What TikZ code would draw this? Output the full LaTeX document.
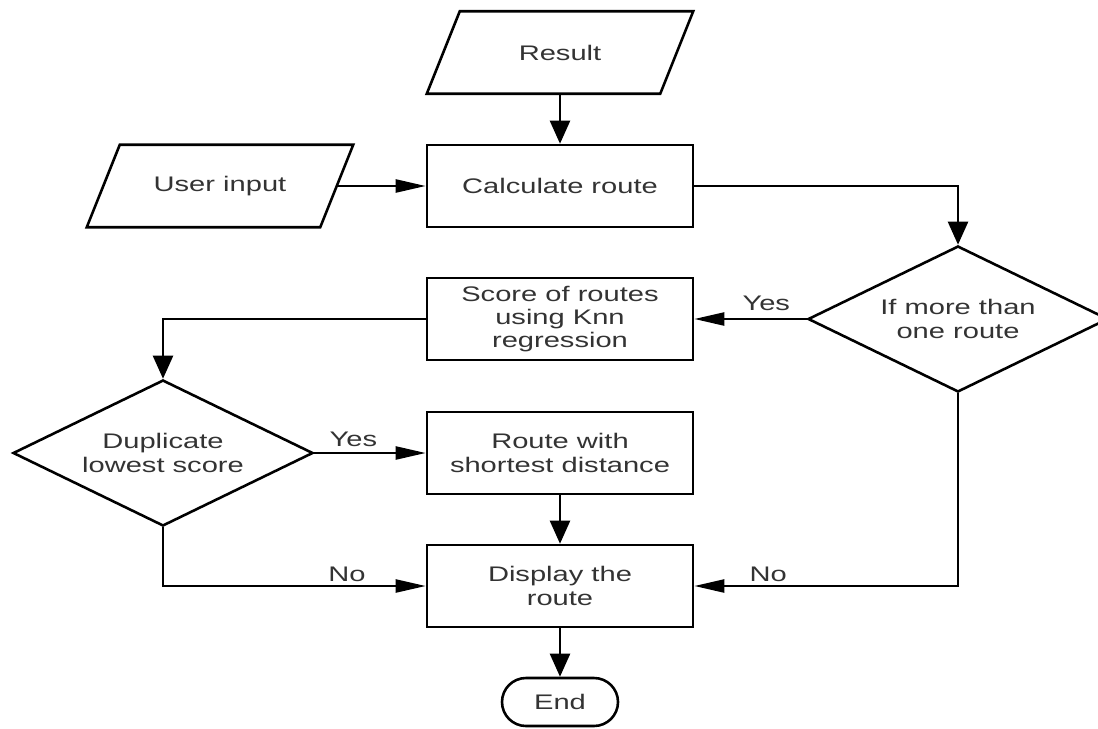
\documentclass[tikz,border=0pt]{standalone}
\usepackage{fontspec}
\setsansfont{Liberation Sans}[FakeStretch=1.38]
\usepackage{tikz}
\usetikzlibrary{shapes.geometric,arrows.meta}

\tikzset{
  txt/.style={font=\sffamily\fontsize{18}{20}\selectfont, text=black!80},
  box/.style={txt, draw=black, line width=2.2pt, minimum width=7.98cm, minimum height=2.46cm, inner sep=0pt, align=center},
  io/.style={txt, minimum width=6cm, minimum height=2.46cm, inner sep=0pt},
  slant/.style={line width=2.2pt, line join=miter},
  choice/.style={txt, draw=black, line width=2.2pt, diamond, aspect=2.05, minimum width=9cm, minimum height=4.38cm,
    inner sep=0pt, align=center},
  stop/.style={txt, draw=black, line width=2.2pt, rounded corners=0.72cm, minimum width=3.48cm, minimum height=1.44cm},
  vflow/.style={line width=2pt, -{Triangle[length=0.69cm,width=0.6cm]}},
  hflow/.style={line width=2pt, -{Triangle[length=0.9cm,width=0.39cm]}},
  lbl/.style={txt, inner sep=0pt}
}

\begin{document}
\begin{tikzpicture}[x=0.03cm, y=-0.03cm]
\useasboundingbox (0,0) rectangle (1098,728);

% shapes
\node[io] (res) at (560,52.5) {Result};
\node[io] (inp) at (220,186) {User input};
\draw[slant] ([xshift=-0.99cm]res.south west) -- (res.north west) -- ([xshift=0.99cm]res.north east)
  -- (res.south east) -- cycle;
\draw[slant] ([xshift=-0.99cm]inp.south west) -- (inp.north west) -- ([xshift=0.99cm]inp.north east)
  -- (inp.south east) -- cycle;
\node[box] (calc) at (560,186) {Calculate route};
\node[choice] (more) at (958,319) {If more than\\one route};
\node[box] (score) at (560,319) {Score of routes\\using Knn\\regression};
\node[choice] (dup) at (163,453) {Duplicate\\lowest score};
\node[box] (short) at (560,453) {Route with\\shortest distance};
\node[box] (disp) at (560,586) {Display the\\route};
\node[stop] (end) at (560,702) {End};

% connectors
\draw[vflow] (res) -- (calc);
\draw[hflow] ([xshift=0.5cm]inp.east) -- (calc.west);
\draw[vflow] (calc.east) -| (more.north);
\draw[hflow] (more.west) -- node[lbl, pos=0.36, above=0.21cm] (yes1) {Yes} (score.east);
\draw[vflow] (score.west) -| (dup.north);
\draw[hflow] (dup.east) -- node[lbl, pos=0.35, above=0.15cm] (yes2) {Yes} (short.west);
\draw[hflow] (dup.south) |- node[lbl, pos=0.85, above=0.1cm] (no1) {No} (disp.west);
\draw[hflow] (more.south) |- node[lbl, pos=0.86, above=0.1cm] (no2) {No} (disp.east);
\draw[vflow] (short) -- (disp);
\draw[vflow] (disp) -- (end);
\end{tikzpicture}
\end{document}
